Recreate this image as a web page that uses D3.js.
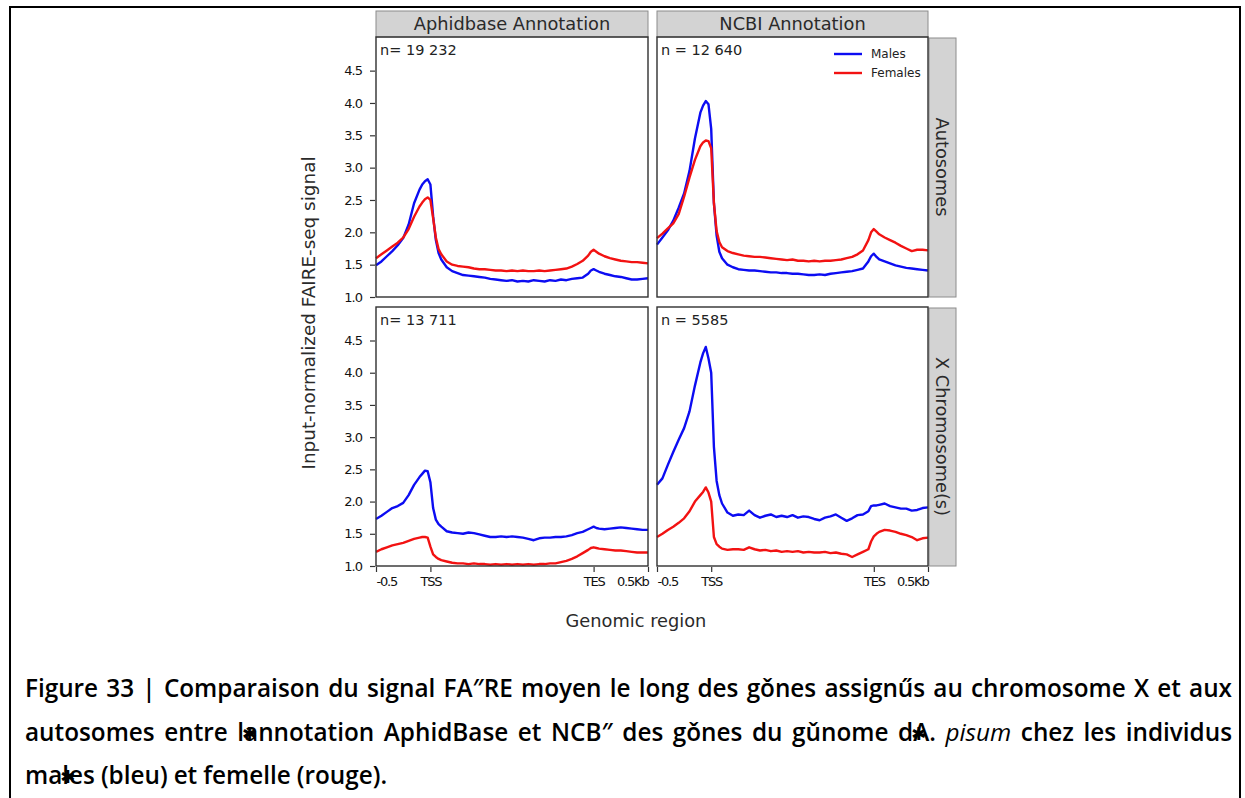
<!DOCTYPE html>
<html><head><meta charset="utf-8">
<script src="https://cdn.jsdelivr.net/npm/d3@7/dist/d3.min.js"></script>
<style>body{margin:0;background:#fff}svg{display:block}</style>
</head><body>
<svg id="chart" width="1245" height="798"></svg>
<script>
// ---------- data ----------
const positions = [-500,-450,-400,-350,-300,-250,-200,-150,-100,-75,-50,-25,0,25,50,75,100,
  150,200,250,300,350,400,450,500,550,600,650,700,750,800,850,900,950,1000,1050,1100,1150,1200,1250,1300,1350,1400,1450,
  1475,1500,1525,1550,1600,1650,1700,1750,1800,1850,1900,1950,2000];

const annotations = ["Aphidbase Annotation", "NCBI Annotation"];
const chromGroups = ["Autosomes", "X Chromosome(s)"];
const geneCounts = [["n= 19 232", "n = 12 640"], ["n= 13 711", "n = 5585"]];
const seriesNames = ["Males", "Females"];
const yTicks = [1.0, 1.5, 2.0, 2.5, 3.0, 3.5, 4.0, 4.5];
const xTickPositions = [-500, 0, 1500, 2000];
const xTickLabels = ["-0.5", "TSS", "TES", "0.5Kb"];

const malesAphidAuto = [1.49,1.55,1.63,1.71,1.80,1.91,2.12,2.45,2.66,2.74,2.79,2.82,2.74,2.25,1.88,1.68,1.58,
  1.46,1.40,1.37,1.34,1.33,1.32,1.31,1.30,1.28,1.27,1.26,1.25,1.26,1.24,1.25,1.24,1.26,1.25,1.24,1.26,1.25,1.27,1.26,1.28,1.29,1.30,1.36,
  1.41,1.43,1.41,1.39,1.36,1.34,1.32,1.31,1.29,1.27,1.27,1.28,1.29];
const femalesAphidAuto = [1.60,1.66,1.72,1.78,1.84,1.92,2.05,2.24,2.40,2.46,2.51,2.54,2.50,2.22,1.92,1.74,1.66,
  1.55,1.50,1.48,1.47,1.46,1.44,1.43,1.43,1.42,1.41,1.41,1.40,1.41,1.40,1.41,1.40,1.40,1.41,1.40,1.41,1.42,1.43,1.44,1.47,1.51,1.56,1.64,
  1.70,1.73,1.70,1.67,1.63,1.60,1.58,1.56,1.55,1.54,1.54,1.53,1.52];
const malesNcbiAuto = [1.81,1.92,2.03,2.18,2.38,2.60,2.95,3.45,3.85,3.96,4.03,3.98,3.60,2.45,1.95,1.70,1.60,
  1.50,1.46,1.43,1.42,1.41,1.41,1.40,1.39,1.38,1.38,1.37,1.37,1.36,1.36,1.35,1.34,1.34,1.35,1.34,1.36,1.37,1.38,1.39,1.40,1.42,1.44,1.55,
  1.63,1.67,1.62,1.58,1.55,1.52,1.49,1.47,1.45,1.44,1.43,1.42,1.41];
const femalesNcbiAuto = [1.91,1.98,2.06,2.14,2.28,2.55,2.85,3.12,3.33,3.39,3.42,3.41,3.30,2.45,2.02,1.85,1.77,
  1.71,1.68,1.66,1.64,1.63,1.62,1.62,1.61,1.60,1.59,1.58,1.57,1.58,1.56,1.56,1.55,1.56,1.55,1.56,1.56,1.57,1.58,1.60,1.62,1.66,1.72,1.88,
  2.00,2.05,2.01,1.97,1.92,1.88,1.84,1.79,1.75,1.71,1.73,1.73,1.72];
const malesAphidX = [1.73,1.78,1.84,1.90,1.93,1.98,2.10,2.26,2.38,2.43,2.48,2.47,2.30,1.90,1.72,1.65,1.61,
  1.54,1.52,1.51,1.50,1.52,1.51,1.49,1.47,1.45,1.45,1.46,1.45,1.46,1.45,1.44,1.42,1.40,1.43,1.44,1.44,1.45,1.45,1.46,1.48,1.51,1.53,1.57,
  1.59,1.61,1.59,1.58,1.57,1.58,1.59,1.60,1.59,1.58,1.57,1.56,1.56];
const femalesAphidX = [1.22,1.26,1.29,1.32,1.34,1.36,1.39,1.42,1.44,1.45,1.45,1.44,1.30,1.18,1.14,1.11,1.09,
  1.07,1.05,1.04,1.04,1.03,1.04,1.03,1.03,1.02,1.03,1.02,1.03,1.02,1.03,1.02,1.03,1.02,1.03,1.03,1.04,1.04,1.06,1.08,1.11,1.15,1.20,1.25,
  1.28,1.29,1.28,1.27,1.26,1.25,1.24,1.24,1.23,1.22,1.21,1.21,1.21];
const malesNcbiX = [2.26,2.36,2.57,2.77,2.96,3.14,3.40,3.80,4.16,4.30,4.40,4.22,4.00,2.85,2.32,2.10,1.97,
  1.83,1.78,1.80,1.79,1.86,1.79,1.75,1.78,1.80,1.76,1.78,1.76,1.79,1.75,1.77,1.76,1.73,1.71,1.75,1.77,1.80,1.75,1.70,1.74,1.79,1.80,1.85,
  1.93,1.94,1.94,1.95,1.97,1.93,1.91,1.89,1.89,1.86,1.87,1.90,1.91];
const femalesNcbiX = [1.45,1.50,1.56,1.61,1.67,1.74,1.85,2.00,2.10,2.15,2.22,2.14,2.00,1.45,1.34,1.30,1.27,
  1.25,1.26,1.26,1.25,1.29,1.26,1.24,1.25,1.23,1.24,1.22,1.23,1.22,1.23,1.21,1.22,1.21,1.21,1.22,1.20,1.21,1.19,1.18,1.14,1.18,1.22,1.26,
  1.38,1.46,1.50,1.53,1.56,1.55,1.53,1.50,1.48,1.45,1.40,1.43,1.44];

// caption lines (¤ = garbled glyph drawn over following character, _ = italic word)
const captionLines = [
  ["Figure","33","|","Comparaison","du","signal","FA″RE","moyen","le","long","des","gǒnes","assignűs","au","chromosome","X","et","aux"],
  ["autosomes","entre","l¤annotation","AphidBase","et","NCB″","des","gǒnes","du","gǔnome","d¤A.","_pisum","chez","les","individus"],
  ["ma¤les","(bleu)","et","femelle","(rouge)."]
];

// ---------- layout ----------
const svg = d3.select("#chart");
const colX = [[376, 648], [657, 928]];
const rowY = [[37, 297], [307, 566]];
const seriesColors = ["#0c0cf2", "#f21212"];
const panelData = [
  [[malesAphidAuto, femalesAphidAuto], [malesNcbiAuto, femalesNcbiAuto]],
  [[malesAphidX, femalesAphidX], [malesNcbiX, femalesNcbiX]]
];
const chartFont = "'DejaVu Sans', Verdana, sans-serif";

// outer frame
svg.append("path").attr("d", "M10,798 V7 H1240 V798").attr("fill", "none")
  .attr("stroke", "#000").attr("stroke-width", 2);

// column strips
annotations.forEach((a, c) => {
  const [x0, x1] = colX[c];
  svg.append("rect").attr("x", x0).attr("y", 11).attr("width", x1 - x0).attr("height", 26)
    .attr("fill", "#d3d3d3").attr("stroke", "#8c8c8c").attr("stroke-width", 1);
  svg.append("text").attr("x", (x0 + x1) / 2).attr("y", 23.5).attr("dy", "0.36em")
    .attr("text-anchor", "middle").attr("font-family", chartFont).attr("font-size", 17.8)
    .attr("fill", "#2a2a2a").text(a);
});
// row strips
chromGroups.forEach((g, r) => {
  const [y0, y1] = rowY[r];
  svg.append("rect").attr("x", 929).attr("y", y0 + 1).attr("width", 27).attr("height", y1 - y0 - 1)
    .attr("fill", "#d3d3d3").attr("stroke", "#8c8c8c").attr("stroke-width", 1);
  svg.append("text").attr("transform", `translate(942,${(y0 + y1) / 2}) rotate(90)`)
    .attr("dy", "0.36em").attr("text-anchor", "middle").attr("font-family", chartFont)
    .attr("font-size", 17.8).attr("fill", "#2a2a2a").text(g);
});

// panels
rowY.forEach(([y0, y1], r) => {
  const y = d3.scaleLinear().domain([1.0, 5.02]).range([y1, y0]);
  colX.forEach(([x0, x1], c) => {
    const x = d3.scaleLinear().domain([-500, 2000]).range([x0, x1]);
    const g = svg.append("g");
    const line = d3.line().x(d => x(d[0])).y(d => y(d[1]));
    panelData[r][c].forEach((vals, s) => {
      g.append("path").datum(d3.zip(positions, vals)).attr("d", line)
        .attr("fill", "none").attr("stroke", seriesColors[s]).attr("stroke-width", 2.4)
        .attr("stroke-linejoin", "round");
    });
    g.append("rect").attr("x", x0).attr("y", y0).attr("width", x1 - x0).attr("height", y1 - y0)
      .attr("fill", "none").attr("stroke", "#303030").attr("stroke-width", 1.4);
    g.append("text").attr("x", x0 + 4).attr("y", y0 + 13).attr("dy", "0.36em")
      .attr("font-family", chartFont).attr("font-size", 14.5).attr("fill", "#222")
      .style("white-space", "pre").text(geneCounts[r][c]);

    if (c === 0) {
      const ax = svg.append("g").attr("transform", `translate(${x0 - 1},0)`)
        .call(d3.axisLeft(y).tickValues(yTicks).tickFormat(d3.format(".1f")).tickSize(5).tickPadding(8));
      ax.select(".domain").remove();
      ax.selectAll("line").attr("stroke", "#333").attr("stroke-width", 1.2);
      ax.selectAll("text").attr("font-family", chartFont).attr("font-size", 13)
        .attr("letter-spacing", "-1px").attr("fill", "#111");
    }
    if (r === 1) {
      const ax = svg.append("g").attr("transform", `translate(0,${y1 + 1})`)
        .call(d3.axisBottom(x).tickValues(xTickPositions).tickFormat((d, i) => xTickLabels[i]).tickSize(5).tickPadding(5));
      ax.select(".domain").remove();
      ax.selectAll("line").attr("stroke", "#333").attr("stroke-width", 1.2);
      ax.selectAll("text").attr("font-family", chartFont).attr("font-size", 13)
        .attr("letter-spacing", "-1.2px").attr("fill", "#111")
        .attr("text-anchor", (d, i) => i === 0 ? "start" : (i === xTickPositions.length - 1 ? "end" : "middle"));
    }
    if (r === 0 && c === 1) {
      seriesNames.forEach((nm, s) => {
        const ly = y0 + 17 + s * 19;
        g.append("line").attr("x1", x1 - 94).attr("x2", x1 - 66).attr("y1", ly).attr("y2", ly)
          .attr("stroke", seriesColors[s]).attr("stroke-width", 2.4);
        g.append("text").attr("x", x1 - 57).attr("y", ly).attr("dy", "0.36em")
          .attr("font-family", chartFont).attr("font-size", 12).attr("fill", "#222").text(nm);
      });
    }
  });
});

// axis titles
svg.append("text").attr("transform", "translate(308,313) rotate(-90)").attr("dy", "0.36em")
  .attr("text-anchor", "middle").attr("font-family", chartFont).attr("font-size", 18.4)
  .attr("fill", "#2a2a2a").text("Input-normalized FAIRE-seq signal");
svg.append("text").attr("x", 636).attr("y", 621).attr("dy", "0.36em")
  .attr("text-anchor", "middle").attr("font-family", chartFont).attr("font-size", 17.8)
  .attr("fill", "#2a2a2a").text("Genomic region");

// caption (justified)
const capFont = "'Open Sans', 'Noto Sans', sans-serif";
const capLeft = 25, capRight = 1232, capBase = [697, 741, 784];
captionLines.forEach((words, li) => {
  const items = words.map(w => {
    const italic = w.startsWith("_");
    let txt = italic ? w.slice(1) : w;
    const mark = txt.indexOf("¤");
    txt = txt.replace("¤", "");
    const t = svg.append("text").attr("y", capBase[li]).attr("font-family", capFont)
      .attr("font-size", 24.3).attr("font-weight", italic ? 400 : 600)
      .attr("font-style", italic ? "italic" : "normal").attr("fill", "#000").text(txt);
    return {t, w: t.node().getComputedTextLength(), mark};
  });
  const total = d3.sum(items, d => d.w);
  const last = li === captionLines.length - 1;
  const gap = last ? 6 : (capRight - capLeft - total) / (items.length - 1);
  let cx = capLeft;
  items.forEach(it => {
    it.t.attr("x", cx);
    if (it.mark >= 0) {
      const p = it.t.node().getStartPositionOfChar(it.mark);
      svg.append("text").attr("x", p.x - 2).attr("y", capBase[li] - 1).attr("font-family", "'DejaVu Sans', sans-serif")
        .attr("font-size", 18).attr("font-weight", 700).attr("fill", "#000").text("✱");
    }
    cx += it.w + gap;
  });
});
</script>
</body></html>
